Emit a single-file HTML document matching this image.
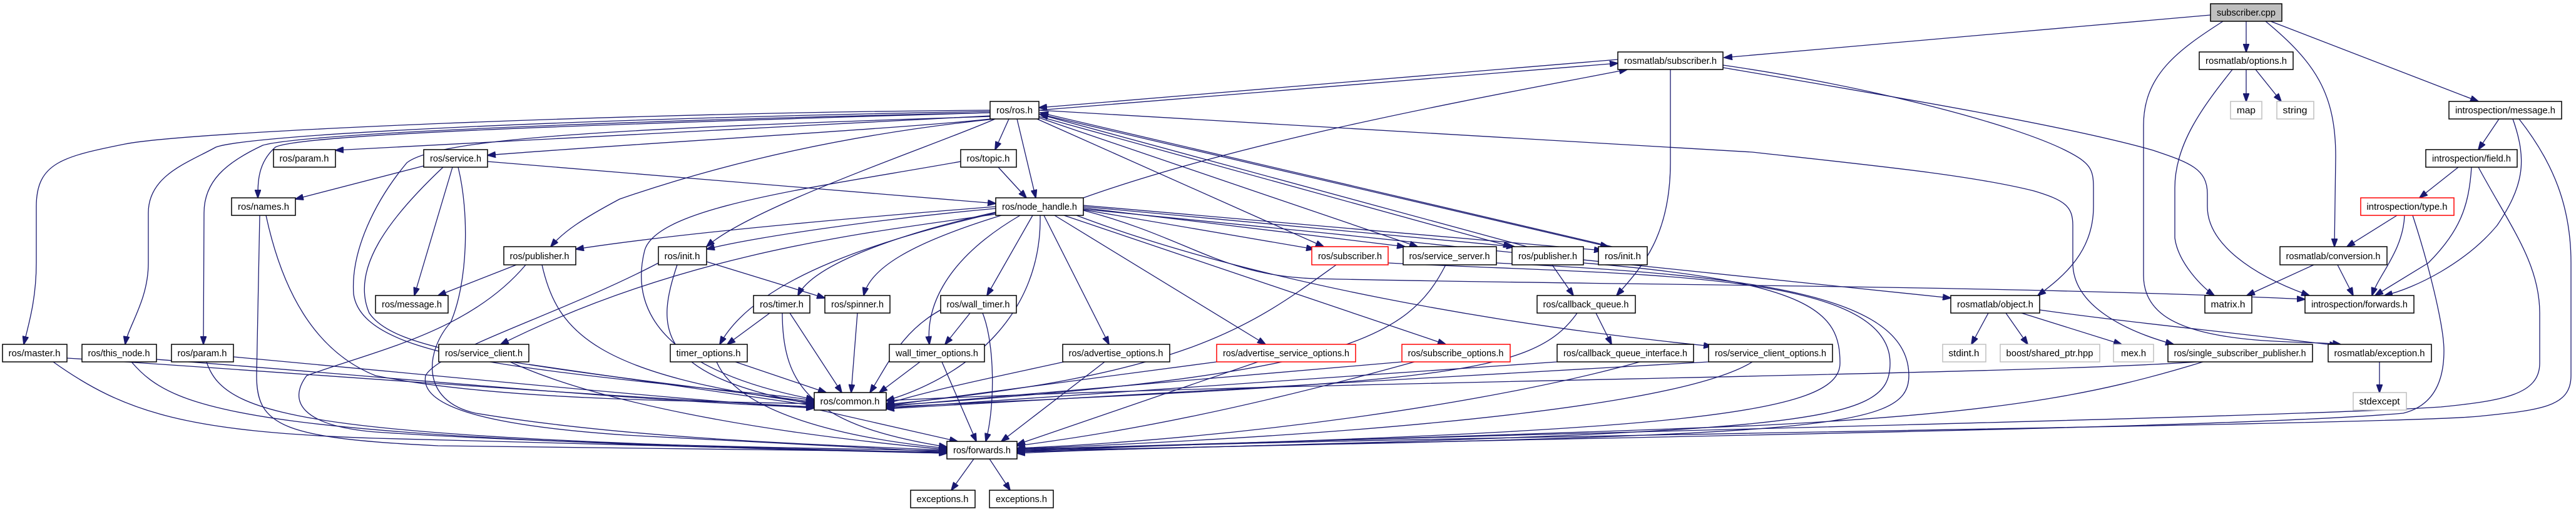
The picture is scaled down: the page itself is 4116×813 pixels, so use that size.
<!DOCTYPE html>
<html><head><meta charset="utf-8"><style>
html,body{margin:0;padding:0;background:#fff;}
svg{display:block;}
.e path{fill:none;stroke:#191970;stroke-width:1.3;marker-end:url(#a);}
.n rect{fill:#fff;stroke:#000;stroke-width:1.5;}
.n rect.r{stroke:#ff0000;}
.n rect.g{stroke:#bfbfbf;}
.n rect.c{fill:#bfbfbf;}
text{font-family:"Liberation Sans",sans-serif;font-size:15px;text-anchor:middle;fill:#000;}
</style></head><body>
<svg width="4116" height="813" viewBox="0 0 4116 813" xmlns="http://www.w3.org/2000/svg">
<defs><marker id="a" markerUnits="userSpaceOnUse" markerWidth="14" markerHeight="10" refX="13" refY="5" orient="auto"><path d="M0,0 L14,5 L0,10 z" fill="#191970" stroke="#191970"/></marker></defs>
<g class="e">
<path d="M3532,24 L2755,92"/>
<path d="M3589,34 L3589,83"/>
<path d="M3620,34 C3700,100 3732,150 3732,250 L3730,394"/>
<path d="M3628,34 L3960,162"/>
<path d="M3552,34 C3480,80 3425,120 3425,200 L3425,440 C3425,500 3480,520 3520,530 C3600,550 3700,545 3740,550"/>
<path d="M3589,111 L3589,162"/>
<path d="M3604,111 L3645,162"/>
<path d="M3567,111 C3520,170 3475,230 3475,300 L3475,380 C3480,420 3520,460 3538,472"/>
<path d="M3993,190 L3960,239"/>
<path d="M4015,190 C4040,260 4030,300 3990,360 C3940,420 3860,460 3810,472"/>
<path d="M4025,190 C4080,260 4108,330 4108,420 L4108,600 C4108,650 4060,655 3960,665 C3800,680 2000,700 1625,720"/>
<path d="M3928,267 L3866,316"/>
<path d="M3949,267 C3945,330 3930,370 3880,420 L3795,472"/>
<path d="M3960,267 C4010,360 4058,420 4058,500 L4058,580 C4058,630 4000,640 3900,650 C3600,670 2000,700 1625,722"/>
<path d="M3830,344 L3750,394"/>
<path d="M3842,344 C3840,400 3800,440 3790,472"/>
<path d="M3855,344 C3880,420 3905,520 3905,560 C3905,620 3880,650 3840,660 C3500,690 2000,705 1625,724"/>
<path d="M3697,423 L3590,472"/>
<path d="M3735,423 L3760,472"/>
<path d="M3177,500 L3150,550"/>
<path d="M3205,500 L3240,550"/>
<path d="M3230,500 L3390,550"/>
<path d="M3259,495 C3400,515 3560,530 3735,552"/>
<path d="M3802,578 L3802,627"/>
<path d="M3510,578 C3200,600 2000,610 1416,640"/>
<path d="M3520,578 C3350,630 3200,660 2800,680 C2300,700 1800,712 1625,718"/>
<path d="M2585,95 L1660,172"/>
<path d="M1660,176 L2585,101"/>
<path d="M1731,316 C2000,220 2400,150 2600,111"/>
<path d="M2669,111 L2669,260 C2669,380 2620,430 2583,472"/>
<path d="M2753,104 C3000,140 3220,200 3300,240 C3340,260 3345,270 3345,300 L3345,330 C3345,400 3300,440 3256,472"/>
<path d="M2753,108 C3000,150 3300,200 3440,240 C3500,260 3527,270 3527,310 L3527,330 C3527,390 3600,440 3690,472"/>
<path d="M1582,176 C1000,180 300,210 200,230 C100,250 58,260 58,330 L58,420 C58,480 45,520 38,550"/>
<path d="M1582,178 C900,190 400,215 345,235 C300,260 237,280 237,340 L237,420 C237,480 205,520 200,550"/>
<path d="M1582,180 C900,195 480,215 420,232 C360,260 326,290 326,340 L325,550"/>
<path d="M1582,180 C900,200 480,215 440,235 C412,260 412,290 412,316"/>
<path d="M1582,185 L536,240"/>
<path d="M1582,190 C1450,205 1000,230 779,248"/>
<path d="M1590,190 C1300,220 1100,280 990,318 C930,350 900,370 880,394"/>
<path d="M1590,190 C1500,230 1200,330 1129,394"/>
<path d="M1612,190 L1590,239"/>
<path d="M1625,190 L1655,316"/>
<path d="M1657,190 L2115,394"/>
<path d="M1660,188 L2265,394"/>
<path d="M1660,186 L2415,394"/>
<path d="M2440,394 L1662,183"/>
<path d="M1660,182 L2570,394"/>
<path d="M2576,394 L1662,180"/>
<path d="M1660,176 L2800,243 C3000,265 3150,280 3250,305 C3300,320 3312,330 3312,360 L3312,420 C3312,490 3400,530 3473,550"/>
<path d="M1582,186 C1000,205 700,220 650,260 C600,320 560,400 565,470 C575,540 700,570 900,595 C1100,620 1250,630 1301,640"/>
<path d="M1535,258 C1300,300 1050,330 1030,400 C1000,520 1100,600 1301,638"/>
<path d="M1595,267 L1640,316"/>
<path d="M677,265 L472,318"/>
<path d="M723,267 L662,472"/>
<path d="M779,258 L1591,325"/>
<path d="M708,267 C620,350 560,430 590,500 C630,560 800,580 1301,642"/>
<path d="M732,267 C750,340 748,450 720,515 C680,560 670,640 760,660 C1000,700 1300,710 1513,719"/>
<path d="M425,344 C450,460 500,560 600,600 C800,640 1100,640 1301,645"/>
<path d="M415,344 L410,600 C410,680 450,700 700,712 L1513,722"/>
<path d="M825,423 L700,472"/>
<path d="M866,423 C890,530 950,600 1301,644"/>
<path d="M840,423 C750,530 600,560 490,600 C460,640 480,680 600,690 C900,710 1300,716 1513,720"/>
<path d="M1129,418 L1318,476"/>
<path d="M1082,423 C1050,520 1040,600 1301,646"/>
<path d="M1052,420 C900,500 700,560 680,600 C670,650 780,680 1000,695 L1513,722"/>
<path d="M1230,500 L1162,550"/>
<path d="M1262,500 L1345,627"/>
<path d="M1250,500 C1250,620 1300,680 1513,714"/>
<path d="M1370,500 L1360,627"/>
<path d="M1175,578 L1320,627"/>
<path d="M1145,578 C1180,660 1350,700 1513,716"/>
<path d="M845,582 L1301,648"/>
<path d="M815,578 C950,640 1200,690 1513,718"/>
<path d="M107,572 C400,590 900,630 1301,650"/>
<path d="M85,578 C200,660 300,690 600,700 L1513,724"/>
<path d="M250,574 C600,600 1000,640 1301,651"/>
<path d="M210,578 C280,660 400,700 1513,724"/>
<path d="M373,570 C700,600 1100,640 1301,652"/>
<path d="M330,578 C360,670 500,700 1513,723"/>
<path d="M1310,655 L1530,705"/>
<path d="M1556,733 L1520,783"/>
<path d="M1581,733 L1614,783"/>
<path d="M1591,330 C1400,345 1100,370 920,398"/>
<path d="M1591,333 C1400,350 1200,380 1129,398"/>
<path d="M1595,338 C1450,370 1300,420 1275,472"/>
<path d="M1600,344 C1450,390 1390,430 1380,472"/>
<path d="M1591,340 C1420,380 1210,440 1150,550"/>
<path d="M1591,342 C1400,370 1100,400 800,550"/>
<path d="M1650,344 L1577,472"/>
<path d="M1630,344 C1500,420 1480,500 1485,550"/>
<path d="M1662,344 C1665,500 1550,600 1416,640"/>
<path d="M1668,344 L1772,550"/>
<path d="M1685,344 L2022,550"/>
<path d="M1700,344 L2310,550"/>
<path d="M1720,344 C2000,450 2400,520 2735,553"/>
<path d="M1731,335 L2100,398"/>
<path d="M1731,332 L2245,394"/>
<path d="M1731,330 L2420,394"/>
<path d="M1731,328 L2560,400"/>
<path d="M1731,334 C2200,380 2700,430 3117,476"/>
<path d="M1731,336 C1900,380 1950,440 2100,445 C2500,455 3200,455 3683,478"/>
<path d="M2135,423 C2000,520 1900,600 1416,646"/>
<path d="M2218,420 C2600,440 3020,430 3020,580 C3020,680 2900,690 1625,722"/>
<path d="M2310,423 C2250,540 2150,600 1416,648"/>
<path d="M2391,420 C2800,440 3050,470 3050,600 C3050,690 2900,695 1625,720"/>
<path d="M2480,423 L2514,472"/>
<path d="M2530,420 C2900,450 2940,500 2940,580 C2940,660 2700,690 1625,718"/>
<path d="M2550,500 L2575,550"/>
<path d="M2520,500 C2450,600 2300,610 1416,650"/>
<path d="M2488,578 L1416,652"/>
<path d="M2620,578 C2400,640 2000,700 1625,716"/>
<path d="M2730,578 L1416,653"/>
<path d="M2800,578 C2700,640 2300,690 1625,717"/>
<path d="M1700,578 C1600,600 1500,620 1416,645"/>
<path d="M1765,578 L1600,705"/>
<path d="M1944,578 L1416,648"/>
<path d="M2010,578 L1625,710"/>
<path d="M2240,578 L1416,649"/>
<path d="M2260,578 C2000,650 1800,690 1625,712"/>
<path d="M1550,500 L1510,550"/>
<path d="M1503,495 C1440,530 1420,580 1390,627"/>
<path d="M1570,500 C1590,550 1590,650 1575,705"/>
<path d="M1470,578 L1405,627"/>
<path d="M1505,578 L1560,705"/>
</g>
<g class="n">
<rect class="c" x="3532" y="6" width="114" height="28"/><text x="3589" y="25" textLength="94" lengthAdjust="spacingAndGlyphs">subscriber.cpp</text>
<rect x="2585" y="83" width="168" height="28"/><text x="2669" y="102" textLength="148" lengthAdjust="spacingAndGlyphs">rosmatlab/subscriber.h</text>
<rect x="3514" y="83" width="150" height="28"/><text x="3589" y="102" textLength="130" lengthAdjust="spacingAndGlyphs">rosmatlab/options.h</text>
<rect class="g" x="3564" y="162" width="50" height="28"/><text x="3589" y="181" textLength="30" lengthAdjust="spacingAndGlyphs">map</text>
<rect class="g" x="3638" y="162" width="59" height="28"/><text x="3667" y="181" textLength="39" lengthAdjust="spacingAndGlyphs">string</text>
<rect x="3913" y="162" width="180" height="28"/><text x="4003" y="181" textLength="160" lengthAdjust="spacingAndGlyphs">introspection/message.h</text>
<rect x="1582" y="162" width="78" height="28"/><text x="1621" y="181" textLength="58" lengthAdjust="spacingAndGlyphs">ros/ros.h</text>
<rect x="437" y="239" width="99" height="28"/><text x="486" y="258" textLength="79" lengthAdjust="spacingAndGlyphs">ros/param.h</text>
<rect x="677" y="239" width="102" height="28"/><text x="728" y="258" textLength="82" lengthAdjust="spacingAndGlyphs">ros/service.h</text>
<rect x="1535" y="239" width="89" height="28"/><text x="1579" y="258" textLength="69" lengthAdjust="spacingAndGlyphs">ros/topic.h</text>
<rect x="3876" y="239" width="146" height="28"/><text x="3949" y="258" textLength="126" lengthAdjust="spacingAndGlyphs">introspection/field.h</text>
<rect x="370" y="316" width="102" height="28"/><text x="421" y="335" textLength="82" lengthAdjust="spacingAndGlyphs">ros/names.h</text>
<rect x="1591" y="316" width="140" height="28"/><text x="1661" y="335" textLength="120" lengthAdjust="spacingAndGlyphs">ros/node_handle.h</text>
<rect class="r" x="3772" y="316" width="149" height="28"/><text x="3846" y="335" textLength="129" lengthAdjust="spacingAndGlyphs">introspection/type.h</text>
<rect x="805" y="394" width="115" height="29"/><text x="862" y="414" textLength="95" lengthAdjust="spacingAndGlyphs">ros/publisher.h</text>
<rect x="1052" y="394" width="77" height="29"/><text x="1090" y="414" textLength="57" lengthAdjust="spacingAndGlyphs">ros/init.h</text>
<rect class="r" x="2096" y="394" width="122" height="29"/><text x="2157" y="414" textLength="102" lengthAdjust="spacingAndGlyphs">ros/subscriber.h</text>
<rect x="2242" y="394" width="149" height="29"/><text x="2316" y="414" textLength="129" lengthAdjust="spacingAndGlyphs">ros/service_server.h</text>
<rect x="2416" y="394" width="114" height="29"/><text x="2473" y="414" textLength="94" lengthAdjust="spacingAndGlyphs">ros/publisher.h</text>
<rect x="2554" y="394" width="78" height="29"/><text x="2593" y="414" textLength="58" lengthAdjust="spacingAndGlyphs">ros/init.h</text>
<rect x="3643" y="394" width="171" height="29"/><text x="3728" y="414" textLength="151" lengthAdjust="spacingAndGlyphs">rosmatlab/conversion.h</text>
<rect x="600" y="472" width="116" height="28"/><text x="658" y="491" textLength="96" lengthAdjust="spacingAndGlyphs">ros/message.h</text>
<rect x="1204" y="472" width="90" height="28"/><text x="1249" y="491" textLength="70" lengthAdjust="spacingAndGlyphs">ros/timer.h</text>
<rect x="1318" y="472" width="104" height="28"/><text x="1370" y="491" textLength="84" lengthAdjust="spacingAndGlyphs">ros/spinner.h</text>
<rect x="1503" y="472" width="121" height="28"/><text x="1563" y="491" textLength="101" lengthAdjust="spacingAndGlyphs">ros/wall_timer.h</text>
<rect x="2456" y="472" width="157" height="28"/><text x="2534" y="491" textLength="137" lengthAdjust="spacingAndGlyphs">ros/callback_queue.h</text>
<rect x="3117" y="472" width="142" height="28"/><text x="3188" y="491" textLength="122" lengthAdjust="spacingAndGlyphs">rosmatlab/object.h</text>
<rect x="3523" y="472" width="75" height="28"/><text x="3560" y="491" textLength="55" lengthAdjust="spacingAndGlyphs">matrix.h</text>
<rect x="3683" y="472" width="174" height="28"/><text x="3770" y="491" textLength="154" lengthAdjust="spacingAndGlyphs">introspection/forwards.h</text>
<rect x="4" y="550" width="103" height="28"/><text x="55" y="569" textLength="83" lengthAdjust="spacingAndGlyphs">ros/master.h</text>
<rect x="131" y="550" width="119" height="28"/><text x="190" y="569" textLength="99" lengthAdjust="spacingAndGlyphs">ros/this_node.h</text>
<rect x="274" y="550" width="99" height="28"/><text x="323" y="569" textLength="79" lengthAdjust="spacingAndGlyphs">ros/param.h</text>
<rect x="701" y="550" width="144" height="28"/><text x="773" y="569" textLength="124" lengthAdjust="spacingAndGlyphs">ros/service_client.h</text>
<rect x="1071" y="550" width="123" height="28"/><text x="1132" y="569" textLength="103" lengthAdjust="spacingAndGlyphs">timer_options.h</text>
<rect x="1421" y="550" width="152" height="28"/><text x="1497" y="569" textLength="132" lengthAdjust="spacingAndGlyphs">wall_timer_options.h</text>
<rect x="1698" y="550" width="171" height="28"/><text x="1783" y="569" textLength="151" lengthAdjust="spacingAndGlyphs">ros/advertise_options.h</text>
<rect class="r" x="1944" y="550" width="222" height="28"/><text x="2055" y="569" textLength="202" lengthAdjust="spacingAndGlyphs">ros/advertise_service_options.h</text>
<rect class="r" x="2240" y="550" width="173" height="28"/><text x="2326" y="569" textLength="153" lengthAdjust="spacingAndGlyphs">ros/subscribe_options.h</text>
<rect x="2488" y="550" width="218" height="28"/><text x="2597" y="569" textLength="198" lengthAdjust="spacingAndGlyphs">ros/callback_queue_interface.h</text>
<rect x="2730" y="550" width="198" height="28"/><text x="2829" y="569" textLength="178" lengthAdjust="spacingAndGlyphs">ros/service_client_options.h</text>
<rect class="g" x="3104" y="550" width="69" height="28"/><text x="3138" y="569" textLength="49" lengthAdjust="spacingAndGlyphs">stdint.h</text>
<rect class="g" x="3196" y="550" width="159" height="28"/><text x="3275" y="569" textLength="139" lengthAdjust="spacingAndGlyphs">boost/shared_ptr.hpp</text>
<rect class="g" x="3377" y="550" width="64" height="28"/><text x="3409" y="569" textLength="40" lengthAdjust="spacingAndGlyphs">mex.h</text>
<rect x="3464" y="550" width="231" height="28"/><text x="3579" y="569" textLength="211" lengthAdjust="spacingAndGlyphs">ros/single_subscriber_publisher.h</text>
<rect x="3720" y="550" width="165" height="28"/><text x="3802" y="569" textLength="145" lengthAdjust="spacingAndGlyphs">rosmatlab/exception.h</text>
<rect x="1301" y="627" width="115" height="28"/><text x="1358" y="646" textLength="95" lengthAdjust="spacingAndGlyphs">ros/common.h</text>
<rect class="g" x="3760" y="627" width="85" height="28"/><text x="3802" y="646" textLength="65" lengthAdjust="spacingAndGlyphs">stdexcept</text>
<rect x="1513" y="705" width="112" height="28"/><text x="1569" y="724" textLength="92" lengthAdjust="spacingAndGlyphs">ros/forwards.h</text>
<rect x="1455" y="783" width="103" height="28"/><text x="1506" y="802" textLength="83" lengthAdjust="spacingAndGlyphs">exceptions.h</text>
<rect x="1581" y="783" width="102" height="28"/><text x="1632" y="802" textLength="82" lengthAdjust="spacingAndGlyphs">exceptions.h</text>
</g>
</svg>
</body></html>
